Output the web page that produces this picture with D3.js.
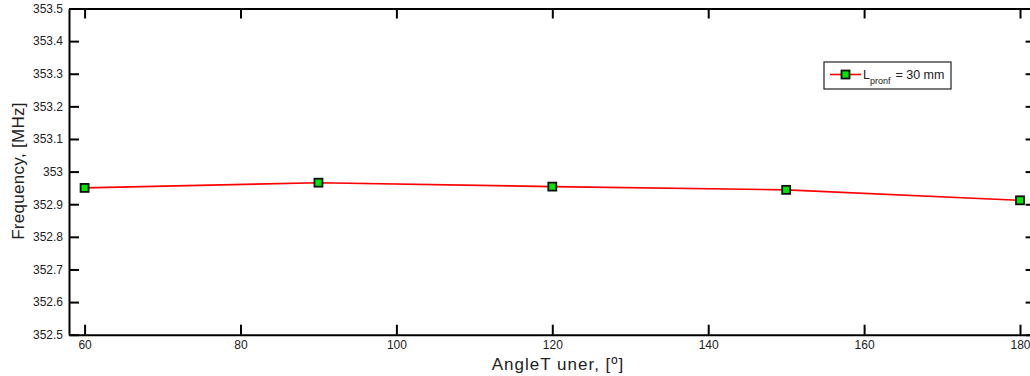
<!DOCTYPE html>
<html>
<head>
<meta charset="utf-8">
<script src="https://cdn.jsdelivr.net/npm/d3@7"></script>
<style>
  body { margin: 0; background: #fff; }
  svg { display: block; font-family: "Liberation Sans", Arial, sans-serif; }
</style>
</head>
<body>
<svg width="1030" height="376"></svg>
<script>
// данные графика
const angles = [60, 90, 120, 150, 180];
const frequency = [352.950, 352.966, 352.954, 352.944, 352.912];
const xTicks = [60, 80, 100, 120, 140, 160, 180];
const yTicks = [352.5, 352.6, 352.7, 352.8, 352.9, 353, 353.1, 353.2, 353.3, 353.4, 353.5];
const seriesName = "30 mm";

const svg = d3.select("svg");

// область построения
const area = { left: 69, right: 1035.6, top: 8.5, bottom: 334.7 };

const scX = d3.scaleLinear().domain([58, 182]).range([area.left, area.right]);
const scY = d3.scaleLinear().domain([352.5, 353.5]).range([area.bottom, area.top]);

const tick = 10;

// оси: нижняя и левая с подписями, верхняя и правая только засечки
svg.append("g")
    .attr("transform", `translate(0, ${area.bottom})`)
    .call(d3.axisBottom(scX).tickValues(xTicks).tickSizeInner(-tick).tickSizeOuter(0).tickPadding(6))
    .call(g => g.select(".domain").attr("stroke-width", 2));

svg.append("g")
    .attr("transform", `translate(0, ${area.top})`)
    .call(d3.axisTop(scX).tickValues(xTicks).tickSizeInner(-tick).tickSizeOuter(0).tickFormat(""))
    .call(g => g.select(".domain").attr("stroke-width", 2));

svg.append("g")
    .attr("transform", `translate(${area.left}, 0)`)
    .call(d3.axisLeft(scY).tickValues(yTicks).tickSizeInner(-tick).tickSizeOuter(0).tickPadding(6)
        .tickFormat(d => d3.format(".1f")(d).replace(/\.0$/, "")))
    .call(g => g.select(".domain").attr("stroke-width", 2));

svg.append("g")
    .attr("transform", `translate(${area.right}, 0)`)
    .call(d3.axisRight(scY).tickValues(yTicks).tickSizeInner(-tick).tickSizeOuter(0).tickFormat(""))
    .call(g => g.select(".domain").attr("stroke-width", 2));

svg.selectAll(".tick line").attr("stroke-width", 2);
svg.selectAll(".tick text").attr("font-size", 12).attr("fill", "#222")
    .attr("font-family", "'Liberation Sans', Arial, sans-serif");

// подписи осей
svg.append("text")
    .attr("x", 558)
    .attr("y", 370)
    .attr("text-anchor", "middle")
    .attr("font-size", 17)
    .attr("letter-spacing", 1)
    .attr("fill", "#222")
    .text("AngleT uner, [º]");

svg.append("text")
    .attr("transform", `translate(24, 171) rotate(-90)`)
    .attr("text-anchor", "middle")
    .attr("font-size", 17)
    .attr("letter-spacing", 0.3)
    .attr("fill", "#222")
    .text("Frequency, [MHz]");

// линия
const pts = angles.map((a, i) => ({ x: a, y: frequency[i] }));

svg.append("path")
    .datum(pts)
    .attr("fill", "none")
    .attr("stroke", "#ff0000")
    .attr("stroke-width", 1.6)
    .attr("d", d3.line().x(d => scX(d.x)).y(d => scY(d.y)));

const m = 8;
svg.selectAll(".marker")
    .data(pts)
    .enter()
    .append("rect")
    .attr("x", d => scX(d.x) - m / 2)
    .attr("y", d => scY(d.y) - m / 2)
    .attr("width", m)
    .attr("height", m)
    .attr("fill", "#00e600")
    .attr("stroke", "#111")
    .attr("stroke-width", 1.8);

// легенда
const lg = svg.append("g").attr("transform", "translate(824, 62)");
lg.append("rect")
    .attr("width", 127).attr("height", 27)
    .attr("fill", "#fff").attr("stroke", "#222").attr("stroke-width", 1.2);
lg.append("line")
    .attr("x1", 6).attr("x2", 37).attr("y1", 12.5).attr("y2", 12.5)
    .attr("stroke", "#ff0000").attr("stroke-width", 1.6);
lg.append("rect")
    .attr("x", 17.5).attr("y", 8.5).attr("width", m).attr("height", m)
    .attr("fill", "#00e600").attr("stroke", "#111").attr("stroke-width", 1.8);
const lt = lg.append("text")
    .attr("x", 39).attr("y", 17)
    .attr("font-size", 12.5).attr("fill", "#222");
lt.append("tspan").text("L");
lt.append("tspan").attr("font-size", 9).attr("dy", 5).text("pronf");
lt.append("tspan").attr("dy", -5).attr("dx", 5).text("= " + seriesName);
</script>
</body>
</html>
